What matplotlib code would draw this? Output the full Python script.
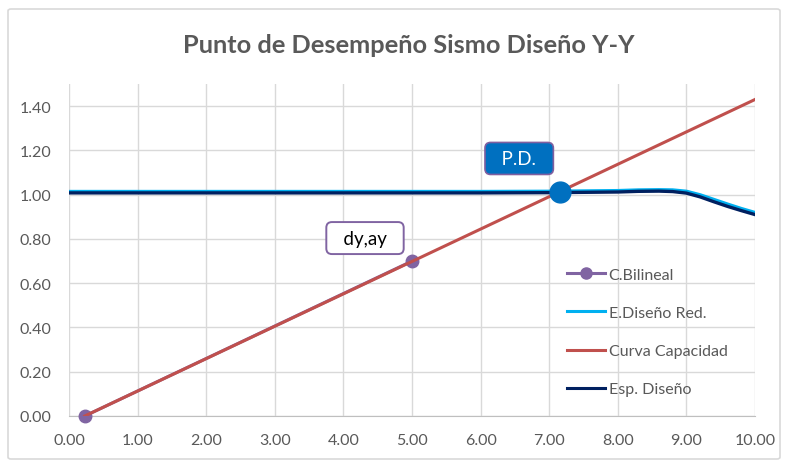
import matplotlib
matplotlib.use("Agg")
import matplotlib.pyplot as plt
from matplotlib.patches import FancyBboxPatch

plt.rcParams['font.family'] = ['Lato', 'DejaVu Sans']

# Capacity curve (Sd, Sa)
cap_x = [0.23, 10.0]
cap_y = [0.0, 1.43]

# Bilinear representation points
bil_x = [0.23, 5.0]
bil_y = [0.0, 0.70]

# Design spectrum (ADRS)
esp_x = [0.0, 1.0, 2.0, 3.0, 4.0, 5.0, 6.0, 7.0, 8.0, 8.3, 8.6, 8.8, 9.0, 9.2, 9.4, 9.6, 9.8, 10.0]
esp_y = [1.008, 1.008, 1.008, 1.008, 1.008, 1.008, 1.008, 1.009, 1.012, 1.015, 1.016, 1.014,
         1.007, 0.990, 0.968, 0.947, 0.928, 0.910]

# Reduced design spectrum
red_x = esp_x
red_y = [1.013, 1.013, 1.013, 1.013, 1.013, 1.013, 1.013, 1.014, 1.017, 1.020, 1.021, 1.020,
         1.014, 0.998, 0.977, 0.956, 0.936, 0.918]

# Performance point
pd_x = 7.16
pd_y = 1.01

x_ticks = [0, 1, 2, 3, 4, 5, 6, 7, 8, 9, 10]
y_ticks = [0.0, 0.2, 0.4, 0.6, 0.8, 1.0, 1.2, 1.4]

gray = '#595959'
grid_c = '#D9D9D9'

fig = plt.figure(figsize=(7.86, 4.64), dpi=100)
fig.patch.set_facecolor('white')

# chart frame
frame = FancyBboxPatch((8 / 786, 4 / 464), 772 / 786, 450 / 464,
                       boxstyle='round,pad=0,rounding_size=0.004',
                       transform=fig.transFigure, facecolor='none',
                       edgecolor='#D9D9D9', linewidth=1.2, zorder=0)
fig.patches.append(frame)

ax = fig.add_axes([69 / 786, 47 / 464, 686 / 786, 332 / 464])
ax.set_xlim(0, 10)
ax.set_ylim(0, 1.5)
ax.set_xticks(x_ticks)
ax.set_yticks(y_ticks)
ax.set_xticklabels([f'{v:.2f}' for v in x_ticks])
ax.set_yticklabels([f'{v:.2f}' for v in y_ticks])
ax.tick_params(length=0, labelsize=11.5, colors=gray)
ax.tick_params(axis='x', pad=12)
ax.tick_params(axis='y', pad=13)
ax.grid(True, color=grid_c, linewidth=1.0)
ax.set_axisbelow(True)
for s in ['top', 'right', 'left']:
    ax.spines[s].set_visible(False)
ax.spines['bottom'].set_color('#BFBFBF')
ax.patch.set_alpha(0)

ax.plot(red_x, red_y, color='#00B0F0', linewidth=2.8, zorder=3)
ax.plot(esp_x, esp_y, color='#002060', linewidth=2.4, zorder=4)
ax.plot(bil_x, bil_y, color='#8064A2', linewidth=2.2, marker='o', markersize=9,
        zorder=5, clip_on=False)
ax.plot(cap_x, cap_y, color='#C0504D', linewidth=2.2, zorder=6)
ax.plot([pd_x], [pd_y], linestyle='none', marker='o', markersize=15,
        color='#0070C0', zorder=7)

h_bil, = ax.plot([], [], color='#8064A2', linewidth=2.2, marker='o', markersize=8)
h_red, = ax.plot([], [], color='#00B0F0', linewidth=2.2)
h_cap, = ax.plot([], [], color='#C0504D', linewidth=2.2)
h_esp, = ax.plot([], [], color='#002060', linewidth=2.2)
leg = ax.legend([h_bil, h_red, h_cap, h_esp],
                ['C.Bilineal', 'E.Diseño Red.', 'Curva Capacidad', 'Esp. Diseño'],
                loc='upper left', bbox_to_anchor=(0.705, 0.49), frameon=False,
                fontsize=11.5, labelcolor=gray, handlelength=2.35, handletextpad=0.25,
                labelspacing=1.5)

# data labels
ax.annotate('  P.D.  ', xy=(pd_x, pd_y), xytext=(-41, 34), textcoords='offset pixels',
            ha='center', va='center', fontsize=13.5, color='white', zorder=8,
            bbox=dict(boxstyle='round,pad=0.4,rounding_size=0.3', facecolor='#0070C0',
                      edgecolor='#7F5FA0', linewidth=1.2))
ax.annotate('  dy,ay  ', xy=(bil_x[1], bil_y[1]), xytext=(-47, 23), textcoords='offset pixels',
            ha='center', va='center', fontsize=13.5, color='black', zorder=8,
            bbox=dict(boxstyle='round,pad=0.4,rounding_size=0.3', facecolor='white',
                      edgecolor='#8064A2', linewidth=1.4))

fig.text(0.5195, 0.902, 'Punto de Desempeño Sismo Diseño Y-Y', ha='center', va='center',
         fontsize=18.3, fontweight='bold', color=gray)

fig.savefig('out.png', dpi=100)
